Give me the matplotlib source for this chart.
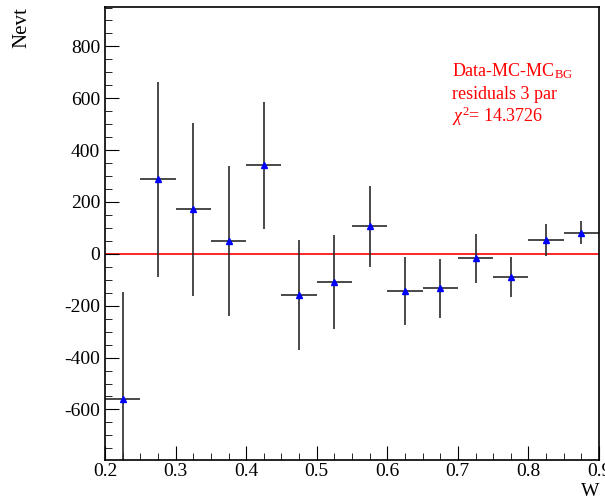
import numpy as np
import matplotlib.pyplot as plt
import matplotlib
from matplotlib.ticker import MultipleLocator

matplotlib.rc('font', family='Liberation Serif', size=14)
matplotlib.rcParams['axes.unicode_minus'] = False
matplotlib.rcParams['mathtext.fontset'] = 'custom'
matplotlib.rcParams['mathtext.rm'] = 'Liberation Serif'
matplotlib.rcParams['mathtext.it'] = 'Liberation Serif:italic'

# bin centres in W, residuals and their errors
w = [0.225, 0.275, 0.325, 0.375, 0.425, 0.475, 0.525,
     0.575, 0.625, 0.675, 0.725, 0.775, 0.825, 0.875]
nevt = [-559, 287, 172, 49, 342, -158, -109,
        107, -143, -132, -17, -89, 54, 82]
err = [410, 377, 334, 289, 245, 211, 180,
       156, 132, 114, 95, 78, 63, 45]
half_width = 0.025

fig = plt.figure(figsize=(6.05, 5.01), dpi=100)
ax = fig.add_axes([105/605, 1-460/501, 494/605, 453/501])

ax.axhline(0, color='red', lw=1.2, zorder=1)
ax.errorbar(w, nevt, yerr=err, xerr=half_width, fmt='none',
            ecolor='#2a2a2a', elinewidth=1.2, capsize=0, zorder=2)
ax.plot(w, nevt, '^', color='blue', ms=5, zorder=3)

ax.set_xlim(0.2, 0.9)
ax.set_ylim(-795, 952)
ax.xaxis.set_major_locator(MultipleLocator(0.1))
ax.xaxis.set_minor_locator(MultipleLocator(0.025))
ax.yaxis.set_major_locator(MultipleLocator(200))
ax.yaxis.set_minor_locator(MultipleLocator(50))
ax.tick_params(which='both', direction='in', top=False, right=False, labelsize=14)
ax.tick_params(which='major', length=10)
ax.tick_params(which='minor', length=5)
ax.tick_params(axis='x', pad=2)
ax.xaxis.set_major_formatter(matplotlib.ticker.FormatStrFormatter('%.1f'))
for s in ax.spines.values():
    s.set_linewidth(1.2)

fig.text(22/605, 1-7/501, 'Nevt', rotation=90, ha='center', va='top', fontsize=15)
fig.text(590/605, 1-500/501, 'W', ha='center', va='bottom', fontsize=14)

fig.text(452/605, 1-76/501, r'Data-MC-MC$_{\mathrm{BG}}$', color='red', fontsize=13,
         va='baseline')
fig.text(452/605, 1-99/501, 'residuals 3 par', color='red', fontsize=13, va='baseline')
fig.text(452/605, 1-122/501, r'$\chi^{2}$= 14.3726', color='red', fontsize=13, va='baseline')

fig.savefig('out.png', dpi=100)
